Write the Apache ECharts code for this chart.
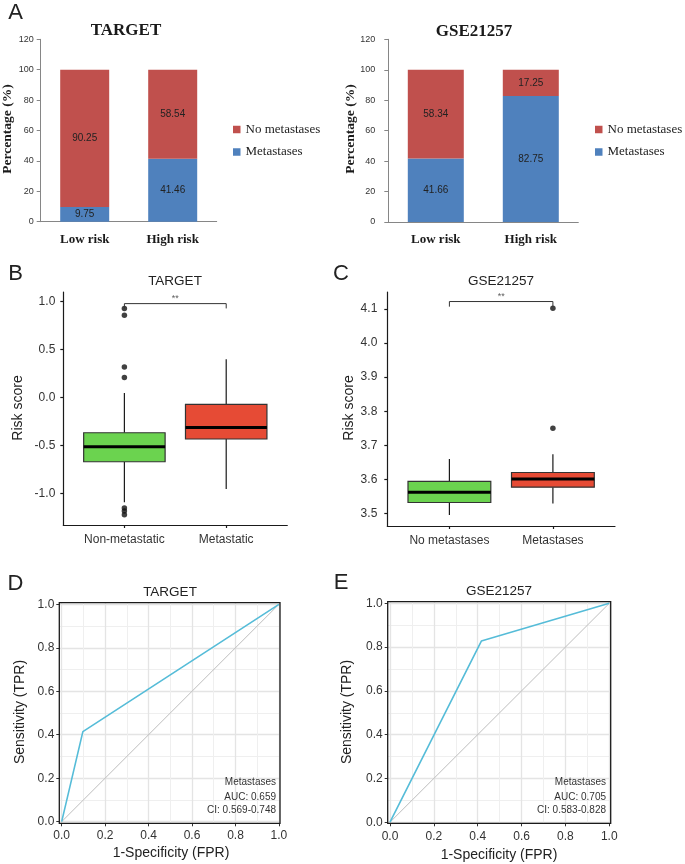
<!DOCTYPE html>
<html><head><meta charset="utf-8">
<script src="https://cdn.jsdelivr.net/npm/echarts@6/dist/echarts.min.js"></script>
<style>html,body{margin:0;padding:0;background:#fff}#c{width:685px;height:864px}</style>
</head><body><div id="c"></div>
<script>
// ---------- Panel A: stacked percentage bars ----------
const riskGroups = ['Low risk', 'High risk'];
const targetMetastases = [9.75, 41.46];
const targetNoMetastases = [90.25, 58.54];
const gseMetastases = [41.66, 82.75];
const gseNoMetastases = [58.34, 17.25];
const pctTicks = [0, 20, 40, 60, 80, 100, 120];

// ---------- Panels B/C: box plots [position, lowWhisker, Q1, median, Q3, highWhisker] ----------
const targetBoxGroups = ['Non-metastatic', 'Metastatic'];
const targetBoxStats = [[1, -1.09, -0.667, -0.51, -0.365, 0.05], [2, -0.95, -0.43, -0.31, -0.07, 0.40]];
const targetOutliers = [[1, 0.93], [1, 0.86], [1, 0.32], [1, 0.21], [1, -1.15], [1, -1.18], [1, -1.22]];
const targetTicks = [-1.0, -0.5, 0.0, 0.5, 1.0];
const targetBracket = [[1, 0.93], [1, 0.98], [2, 0.98], [2, 0.93]];

const gseBoxGroups = ['No metastases', 'Metastases'];
const gseBoxStats = [[1, 3.495, 3.532, 3.562, 3.594, 3.660], [2, 3.529, 3.577, 3.601, 3.620, 3.674]];
const gseOutliers = [[2, 4.102], [2, 3.75]];
const gseTicks = [3.5, 3.6, 3.7, 3.8, 3.9, 4.0, 4.1];
const gseBracket = [[1, 4.107], [1, 4.122], [2, 4.122], [2, 4.107]];

// ---------- Panels D/E: ROC ----------
const targetRoc = [[0, 0], [0.0975, 0.4146], [1, 1]];
const gseRoc = [[0, 0], [0.4166, 0.8275], [1, 1]];
const chanceLine = [[0, 0], [1, 1]];
const rocTicks = [0, 0.2, 0.4, 0.6, 0.8, 1.0];
const targetAuc = ['Metastases', 'AUC: 0.659', 'CI: 0.569-0.748'];
const gseAuc = ['Metastases', 'AUC: 0.705', 'CI: 0.583-0.828'];

const serif = '"Liberation Serif", "Times New Roman", serif';
const sans = '"Liberation Sans", Arial, sans-serif';
const RED = '#C0504D', BLUE = '#4F81BD', GREEN = '#6BD34F', ORANGE = '#E64B35', CYAN = '#55BCD8';

function txt(text, x, y, font, o) {
  o = o || {};
  const al = o.align || 'center';
  return { type: 'text', x: x, y: y, z: 100, rotation: o.rot || 0, silent: true,
    style: { text: text, font: font, fill: o.fill || '#222', align: al, textAlign: al,
             verticalAlign: 'middle', textVerticalAlign: 'middle' } };
}

function boxRender(fill) {
  return function (params, api) {
    const x = api.value(0);
    const lo = api.coord([x, api.value(1)]);
    const q1 = api.coord([x, api.value(2)]);
    const med = api.coord([x, api.value(3)]);
    const q3 = api.coord([x, api.value(4)]);
    const hi = api.coord([x, api.value(5)]);
    const w = api.size([0.8, 0])[0];
    const cx = q1[0];
    return { type: 'group', children: [
      { type: 'line', shape: { x1: cx, y1: hi[1], x2: cx, y2: q3[1] }, style: { stroke: '#1a1a1a', lineWidth: 1.2 } },
      { type: 'line', shape: { x1: cx, y1: q1[1], x2: cx, y2: lo[1] }, style: { stroke: '#1a1a1a', lineWidth: 1.2 } },
      { type: 'rect', shape: { x: cx - w / 2, y: q3[1], width: w, height: q1[1] - q3[1] }, style: { fill: fill, stroke: '#333', lineWidth: 1.2 } },
      { type: 'line', shape: { x1: cx - w / 2, y1: med[1], x2: cx + w / 2, y2: med[1] }, style: { stroke: '#000', lineWidth: 3 } }
    ] };
  };
}

function barX(i) {
  return { gridIndex: i, type: 'category', data: riskGroups,
    axisLine: { lineStyle: { color: '#868686', width: 1 } }, axisTick: { show: false },
    axisLabel: { fontFamily: serif, fontWeight: 'bold', fontSize: 13, color: '#1a1a1a', margin: 11 } };
}
function barY(i, margin) {
  return { gridIndex: i, type: 'value', min: 0, max: 120, interval: 20,
    axisLine: { show: true, lineStyle: { color: '#868686', width: 1 } },
    axisTick: { show: true, length: 4, customValues: pctTicks, lineStyle: { color: '#868686' } },
    splitLine: { show: false },
    axisLabel: { customValues: pctTicks, fontFamily: sans, fontSize: 9, color: '#333', margin: margin } };
}
function boxX(i, groups, margin) {
  return { gridIndex: i, type: 'value', min: 0.4, max: 2.6, splitLine: { show: false },
    axisLine: { show: true, onZero: false, lineStyle: { color: '#1a1a1a', width: 1.2 } },
    axisTick: { show: true, customValues: [1, 2], length: 3, lineStyle: { color: '#1a1a1a', width: 1.2 } },
    axisLabel: { customValues: [1, 2], formatter: v => groups[Math.round(v) - 1], fontFamily: sans, fontSize: 12, color: '#333', margin: margin } };
}
function boxY(i, min, max, ticks, margin) {
  return { gridIndex: i, type: 'value', min: min, max: max, splitLine: { show: false },
    axisLine: { show: true, onZero: false, lineStyle: { color: '#1a1a1a', width: 1.2 } },
    axisTick: { show: true, customValues: ticks, length: 3, lineStyle: { color: '#1a1a1a', width: 1.2 } },
    axisLabel: { customValues: ticks, formatter: v => v.toFixed(1), fontFamily: sans, fontSize: 12, color: '#333', margin: margin } };
}
function rocAxis(i, min, max, margin) {
  return { gridIndex: i, type: 'value', min: min, max: max,
    axisLine: { show: false, onZero: false },
    axisTick: { show: true, customValues: rocTicks, length: 3, lineStyle: { color: '#333', width: 1 } },
    axisLabel: { customValues: rocTicks, formatter: v => v.toFixed(1), fontFamily: sans, fontSize: 12, color: '#333', margin: margin },
    splitLine: { show: true, lineStyle: { color: '#E4E4E4', width: 1.3 } },
    minorTick: { show: false, splitNumber: 2 },
    minorSplitLine: { show: true, lineStyle: { color: '#EFEFEF', width: 1 } } };
}

const bracketMid = (b) => [[(b[1][0] + b[2][0]) / 2, b[1][1]]];

const option = {
  animation: false,
  backgroundColor: '#fff',
  grid: [
    { left: 40.7, top: 39.3, width: 176, height: 182.4 },
    { left: 388.3, top: 39.3, width: 190, height: 182.7 },
    { left: 63.3, top: 292, width: 224, height: 233 },
    { left: 387.3, top: 292, width: 227.7, height: 234 },
    { left: 59.3, top: 602.7, width: 220.7, height: 220.6, show: true, borderColor: '#1a1a1a', borderWidth: 1.3, backgroundColor: 'transparent', z: 5 },
    { left: 387.7, top: 601.7, width: 223, height: 221.6, show: true, borderColor: '#1a1a1a', borderWidth: 1.3, backgroundColor: 'transparent', z: 5 }
  ],
  xAxis: [
    barX(0), barX(1),
    boxX(2, targetBoxGroups, 9), boxX(3, gseBoxGroups, 9),
    rocAxis(4, -0.011, 1.005, 6), rocAxis(5, -0.0105, 1.0065, 7)
  ],
  yAxis: [
    barY(0, 7), barY(1, 13),
    boxY(2, -1.326, 1.101, targetTicks, 8), boxY(3, 3.463, 4.150, gseTicks, 10),
    rocAxis(4, -0.0075, 1.0075, 5), rocAxis(5, -0.005, 1.0075, 5)
  ],
  legend: [
    { left: 233, top: 123, orient: 'vertical', data: ['No metastases', 'Metastases'], icon: 'rect', itemWidth: 7.5, itemHeight: 7.5, itemGap: 9.5, padding: 0, selectedMode: false, textStyle: { fontFamily: serif, fontSize: 13, color: '#222' } },
    { left: 595, top: 123, orient: 'vertical', data: ['No metastases', 'Metastases'], icon: 'rect', itemWidth: 7.5, itemHeight: 7.5, itemGap: 9.5, padding: 0, selectedMode: false, textStyle: { fontFamily: serif, fontSize: 13, color: '#222' } }
  ],
  series: [
    { type: 'bar', name: 'Metastases', xAxisIndex: 0, yAxisIndex: 0, stack: 'a1', data: targetMetastases, barWidth: 49, itemStyle: { color: BLUE },
      label: { show: true, position: 'inside', fontFamily: sans, fontSize: 10, color: '#222' } },
    { type: 'bar', name: 'No metastases', xAxisIndex: 0, yAxisIndex: 0, stack: 'a1', data: targetNoMetastases, barWidth: 49, itemStyle: { color: RED },
      label: { show: true, position: 'inside', fontFamily: sans, fontSize: 10, color: '#222' } },
    { type: 'bar', name: 'Metastases', xAxisIndex: 1, yAxisIndex: 1, stack: 'a2', data: gseMetastases, barWidth: 56, itemStyle: { color: BLUE },
      label: { show: true, position: 'inside', fontFamily: sans, fontSize: 10, color: '#222' } },
    { type: 'bar', name: 'No metastases', xAxisIndex: 1, yAxisIndex: 1, stack: 'a2', data: gseNoMetastases, barWidth: 56, itemStyle: { color: RED },
      label: { show: true, position: 'inside', fontFamily: sans, fontSize: 10, color: '#222' } },

    { type: 'custom', name: 'boxB', xAxisIndex: 2, yAxisIndex: 2, data: [targetBoxStats[0]], renderItem: boxRender(GREEN), encode: { x: 0, y: [1, 2, 3, 4, 5] }, silent: true },
    { type: 'custom', name: 'boxB2', xAxisIndex: 2, yAxisIndex: 2, data: [targetBoxStats[1]], renderItem: boxRender(ORANGE), encode: { x: 0, y: [1, 2, 3, 4, 5] }, silent: true },
    { type: 'scatter', name: 'outB', xAxisIndex: 2, yAxisIndex: 2, data: targetOutliers, symbolSize: 5.5, itemStyle: { color: '#111' }, silent: true },
    { type: 'line', name: 'brB', xAxisIndex: 2, yAxisIndex: 2, data: targetBracket, symbol: 'none', lineStyle: { color: '#333', width: 1 }, silent: true },
    { type: 'scatter', name: 'sigB', xAxisIndex: 2, yAxisIndex: 2, data: bracketMid(targetBracket), symbolSize: 1, itemStyle: { color: 'rgba(0,0,0,0)' }, silent: true,
      label: { show: true, formatter: '**', position: 'top', distance: 0, fontFamily: sans, fontSize: 9, color: '#333' } },

    { type: 'custom', name: 'boxC', xAxisIndex: 3, yAxisIndex: 3, data: [gseBoxStats[0]], renderItem: boxRender(GREEN), encode: { x: 0, y: [1, 2, 3, 4, 5] }, silent: true },
    { type: 'custom', name: 'boxC2', xAxisIndex: 3, yAxisIndex: 3, data: [gseBoxStats[1]], renderItem: boxRender(ORANGE), encode: { x: 0, y: [1, 2, 3, 4, 5] }, silent: true },
    { type: 'scatter', name: 'outC', xAxisIndex: 3, yAxisIndex: 3, data: gseOutliers, symbolSize: 5.5, itemStyle: { color: '#111' }, silent: true },
    { type: 'line', name: 'brC', xAxisIndex: 3, yAxisIndex: 3, data: gseBracket, symbol: 'none', lineStyle: { color: '#333', width: 1 }, silent: true },
    { type: 'scatter', name: 'sigC', xAxisIndex: 3, yAxisIndex: 3, data: bracketMid(gseBracket), symbolSize: 1, itemStyle: { color: 'rgba(0,0,0,0)' }, silent: true,
      label: { show: true, formatter: '**', position: 'top', distance: 0, fontFamily: sans, fontSize: 9, color: '#333' } },

    { type: 'line', name: 'chanceD', xAxisIndex: 4, yAxisIndex: 4, data: chanceLine, symbol: 'none', lineStyle: { color: '#BDBDBD', width: 1 }, silent: true },
    { type: 'line', name: 'rocD', xAxisIndex: 4, yAxisIndex: 4, data: targetRoc, symbol: 'none', lineStyle: { color: CYAN, width: 1.6 }, silent: true },
    { type: 'line', name: 'chanceE', xAxisIndex: 5, yAxisIndex: 5, data: chanceLine, symbol: 'none', lineStyle: { color: '#BDBDBD', width: 1 }, silent: true },
    { type: 'line', name: 'rocE', xAxisIndex: 5, yAxisIndex: 5, data: gseRoc, symbol: 'none', lineStyle: { color: CYAN, width: 1.6 }, silent: true }
  ],
  graphic: {
    elements: [
      // panel letters
      txt('A', 15.5, 13, '22px ' + sans),
      txt('B', 15.5, 273.5, '22px ' + sans),
      txt('C', 341, 273.5, '22px ' + sans),
      txt('D', 15.5, 583.5, '22px ' + sans),
      txt('E', 341, 583, '22px ' + sans),
      // panel A
      txt('TARGET', 126, 31, 'bold 17px ' + serif, { fill: '#1a1a1a' }),
      txt('GSE21257', 474, 31.5, 'bold 17px ' + serif, { fill: '#1a1a1a' }),
      txt('Percentage (%)', 8, 129, 'bold 13.5px ' + serif, { rot: Math.PI / 2, fill: '#1a1a1a' }),
      txt('Percentage (%)', 351, 129, 'bold 13.5px ' + serif, { rot: Math.PI / 2, fill: '#1a1a1a' }),
      // panels B/C
      txt('TARGET', 175, 281, '13.5px ' + sans),
      txt('GSE21257', 501, 281, '13.5px ' + sans),
      txt('Risk score', 18, 408, '14px ' + sans, { rot: Math.PI / 2 }),
      txt('Risk score', 349, 408, '14px ' + sans, { rot: Math.PI / 2 }),
      // panels D/E
      txt('TARGET', 170, 592, '13.5px ' + sans),
      txt('GSE21257', 499, 591, '13.5px ' + sans),
      txt('1-Specificity (FPR)', 171, 853, '14px ' + sans),
      txt('1-Specificity (FPR)', 499, 855, '14px ' + sans),
      txt('Sensitivity (TPR)', 20, 712, '14px ' + sans, { rot: Math.PI / 2 }),
      txt('Sensitivity (TPR)', 347.5, 712, '14px ' + sans, { rot: Math.PI / 2 }),
      txt(targetAuc[0], 276, 782.7, '10px ' + sans, { align: 'right', fill: '#333' }),
      txt(targetAuc[1], 276, 797.3, '10px ' + sans, { align: 'right', fill: '#333' }),
      txt(targetAuc[2], 276, 810.7, '10px ' + sans, { align: 'right', fill: '#333' }),
      txt(gseAuc[0], 606, 782.7, '10px ' + sans, { align: 'right', fill: '#333' }),
      txt(gseAuc[1], 606, 797.3, '10px ' + sans, { align: 'right', fill: '#333' }),
      txt(gseAuc[2], 606, 810.7, '10px ' + sans, { align: 'right', fill: '#333' })
    ]
  }
};

const chart = echarts.init(document.getElementById('c'), null, { renderer: 'canvas' });
chart.setOption(option);
</script>
</body></html>
